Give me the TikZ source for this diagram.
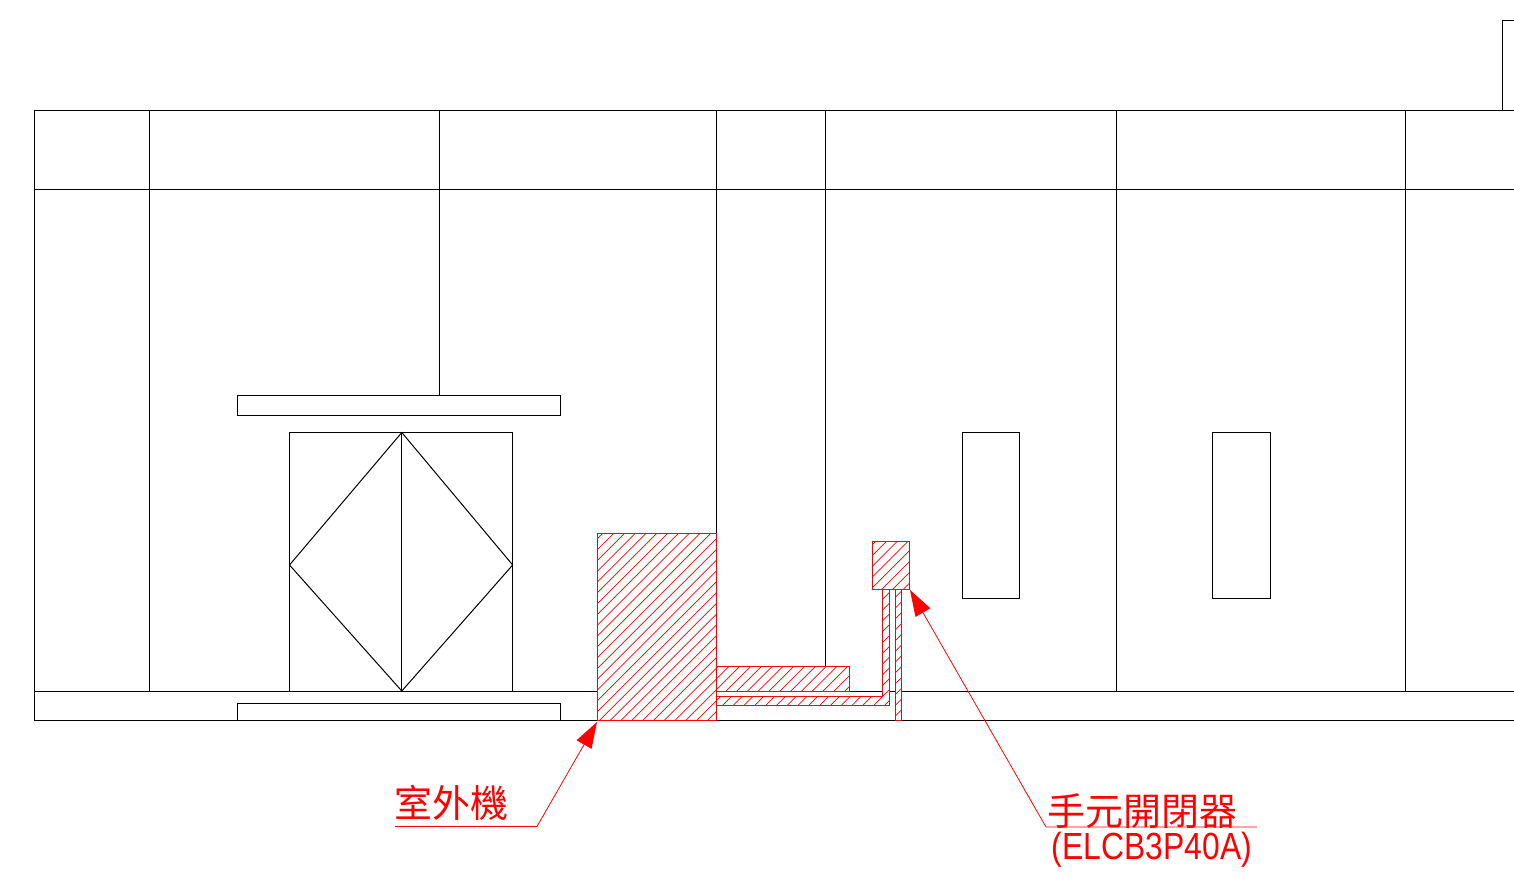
\documentclass[tikz,border=0pt]{standalone}
\usepackage{fontspec}
\setmainfont{Liberation Sans}
\newfontfamily\cjkfont{Noto Sans CJK TC}
\usetikzlibrary{arrows.meta}
\definecolor{redline}{RGB}{255,0,0}
\tikzset{
  wall/.style={draw=black,line width=1pt},
  redpart/.style={draw=redline,line width=1pt},
  hatchline/.style={draw=redline,line width=0.7pt},
  leader/.style={draw=redline,line width=0.8pt},
  leaderarrow/.style={leader,-{Triangle[length=26pt,width=17pt,fill=redline]}},
  cjklabel/.style={text=redline,inner sep=0pt,font=\cjkfont\fontsize{38}{38}\selectfont},
  codelabel/.style={text=redline,inner sep=0pt,xscale=0.91,yscale=1.08,font=\fontsize{35}{35}\selectfont}
}
% #1: closed path, #2 #3 #4 #5: its box x1 y1 x2 y2
\newcommand{\hatched}[5]{%
  \fill[white] #1;
  \begin{scope}
    \clip #1;
    \foreach \k in {0,...,160}{
      \pgfmathsetmacro{\c}{\k*10.8+2.2}
      \draw[hatchline] ({\c-#5},#5) -- ({\c-#3},#3);
    }
  \end{scope}
  \draw[redpart] #1;
}
\begin{document}
\begin{tikzpicture}[x=1pt,y=-1pt]
\useasboundingbox (0,0) rectangle (1514,877);
\begin{scope}
\clip (0,0) rectangle (1514,877);
% building
\draw[wall] (1514,111) -- (34,111) -- (34,720.5) -- (1514,720.5);
\draw[wall] (34,190) -- (1514,190);
\draw[wall] (34,691) -- (1514,691);
\draw[wall] (149,111) -- (149,691);
\draw[wall] (439.5,111) -- (439.5,395.5);
\draw[wall] (716.5,111) -- (716.5,533.5);
\draw[wall] (825.5,111) -- (825.5,666);
\draw[wall] (1116,111) -- (1116,691);
\draw[wall] (1405.5,111) -- (1405.5,691);
\draw[wall] (1502,111) -- (1502,21) -- (1514,21);
% door
\draw[wall,fill=white] (237.5,395.5) rectangle (560.7,415);
\draw[wall] (289.5,691) -- (289.5,432.5) -- (512.7,432.5) -- (512.7,691);
\draw[wall] (401.8,432.5) -- (401.8,691);
\draw[wall] (401.8,432.5) -- (512.7,565) -- (401.8,691) -- (289.5,565) -- cycle;
\draw[wall,fill=white] (237.5,703.5) rectangle (560.7,720.5);
% windows
\draw[wall] (962.5,432.5) rectangle (1019.3,598);
\draw[wall] (1212.7,432.5) rectangle (1270.6,598);
% red equipment
\hatched{(597,533.5) rectangle (716.5,720.5)}{597}{533.5}{716.5}{720.5}
\hatched{(716.5,666) rectangle (849.5,691)}{716.5}{666}{849.5}{691}
\hatched{(716.5,696) -- (882,696) -- (882,589) -- (889.5,589) -- (889.5,705) -- (716.5,705) -- cycle}{716.5}{589}{889.5}{705}
\hatched{(895.7,589) rectangle (901.7,720.5)}{895.7}{589}{901.7}{720.5}
\hatched{(872.3,541) rectangle (909.7,589)}{872.3}{541}{909.7}{589}
\end{scope}
% labels
\coordinate (unitTip) at (597,722);
\coordinate (unitKnee) at (537,826.5);
\coordinate (unitEnd) at (395,826.5);
\coordinate (swTip) at (910,590);
\coordinate (swKnee) at (1046,827);
\coordinate (swEnd) at (1257,827);
\node[cjklabel,anchor=south west] (unitLabel) at (394,821) {室外機};
\node[cjklabel,anchor=south west] (swLabel) at (1047,828.5) {手元開閉器};
\node[codelabel,anchor=center] (swCode) at (1152,849.5) {(ELCB3P40A)};
\draw[leaderarrow] (unitEnd) -- (unitKnee) -- (unitTip);
\draw[leaderarrow] (swEnd) -- (swKnee) -- (swTip);
\end{tikzpicture}
\end{document}
